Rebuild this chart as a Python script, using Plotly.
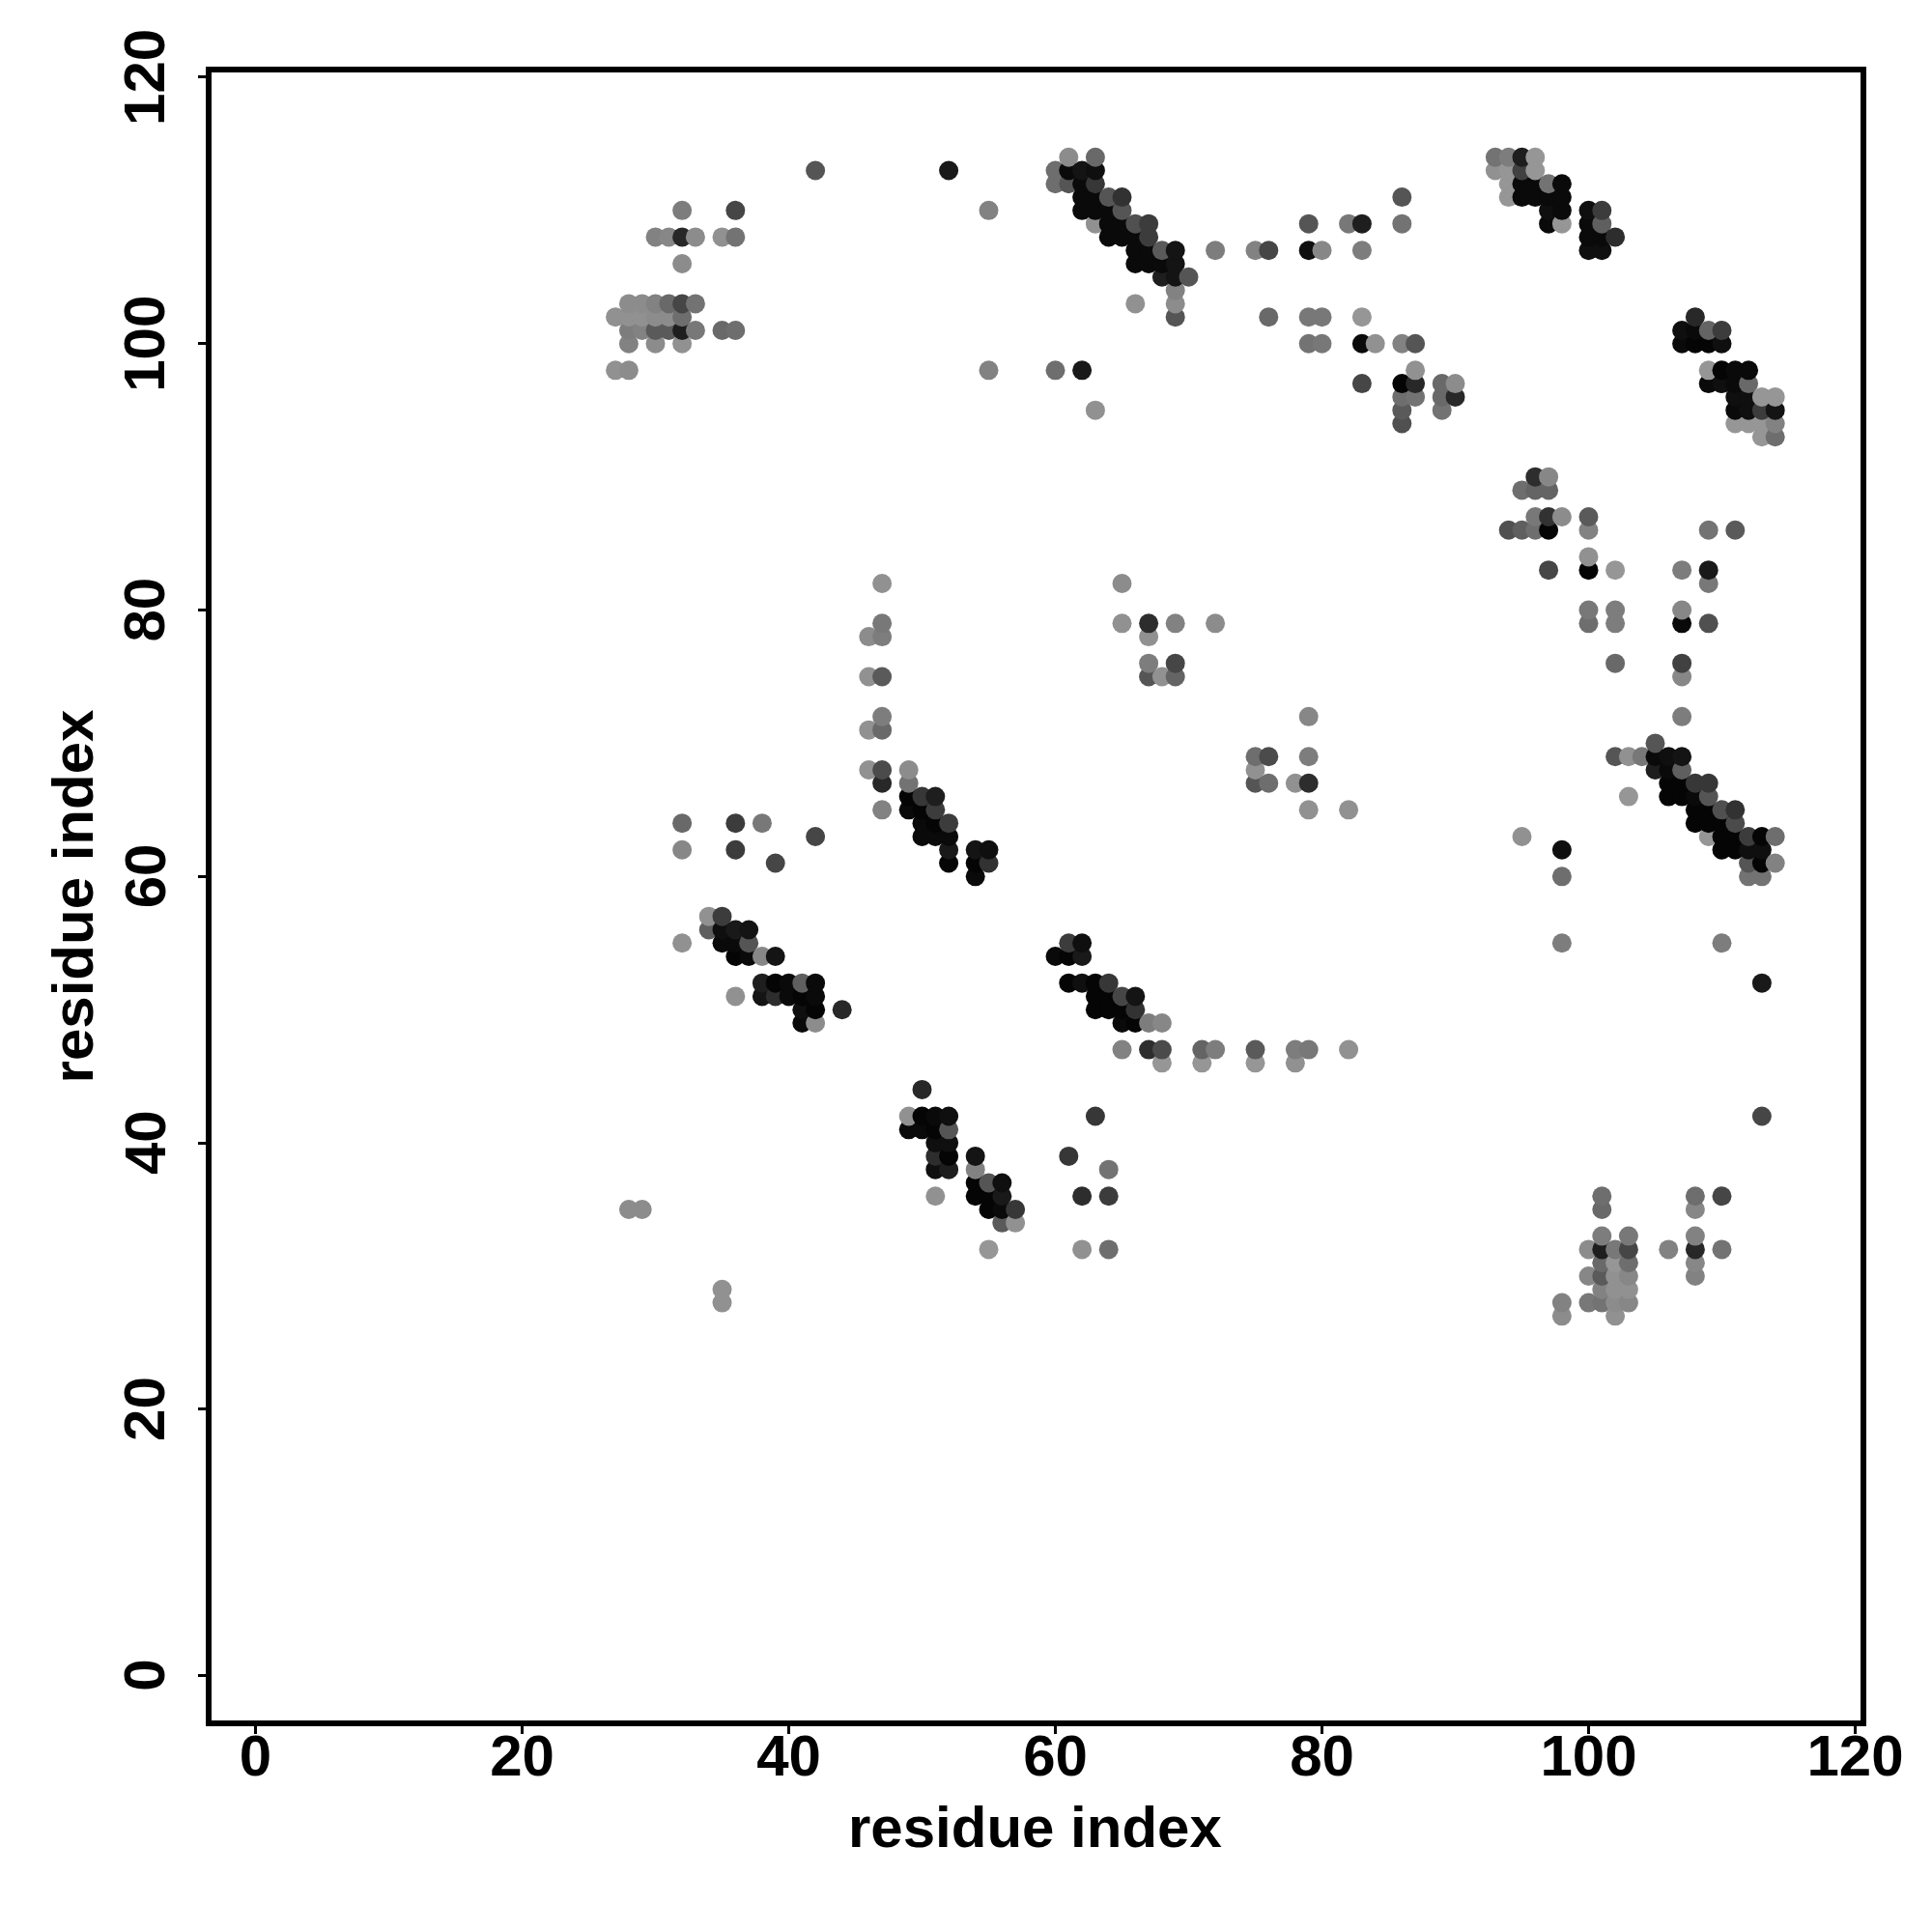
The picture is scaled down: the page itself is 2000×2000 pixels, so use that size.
import plotly.graph_objects as go

# Rows of the contact map: y residue, x residues on that row, grey level (0 black - 255 white)
row_y = [114,113,112,111,110,109,108,107,106,105,104,103,102,101,100,98,97,96,95,94,93,90,89,87,86,84,83,82,80,79,78,76,75,72,71,70,69,68,67,66,65,64,63,62,61,60,57,56,55,54,52,51,50,49,47,46,44,42,41,40,39,38,37,36,35,34,33,32,31,30,29,28,27]
row_x = [
 [61,63,93,94,95,96],
 [42,52,60,61,62,63,93,94,95,96],
 [60,61,62,63,94,95,96,97,98],
 [62,63,64,65,86,94,95,96,97,98],
 [32,36,55,62,63,64,65,97,98,100,101],
 [63,64,65,66,67,79,82,83,86,97,98,100,101],
 [30,31,32,33,35,36,64,65,66,67,100,101,102],
 [66,67,68,69,72,75,76,79,80,83,100,101],
 [32,66,67,68,69],
 [68,69,70],
 [69],
 [28,29,30,31,32,33,66,69],
 [27,28,29,30,31,32,69,76,79,80,83,108],
 [28,29,30,31,32,33,35,36,107,108,109,110],
 [28,30,32,79,80,83,84,86,87,107,108,109,110],
 [27,28,55,60,62,87,109,110,111,112],
 [83,86,87,89,90,109,110,111,112],
 [86,87,89,90,111,112,113,114],
 [63,86,89,111,112,113,114],
 [86,111,112,113,114],
 [113,114],
 [96,97],
 [95,96,97],
 [96,97,98,100],
 [94,95,96,97,100,109,111],
 [100],
 [97,100,102,107,109],
 [47,65,109],
 [100,102,107],
 [47,65,67,69,72,100,102,107,109],
 [46,47,67],
 [67,69,102,107],
 [46,47,67,68,69,107],
 [47,79,107],
 [46,47],
 [105],
 [75,76,79,102,103,104,105,106,107],
 [46,47,49,75,105,106,107],
 [47,49,75,76,78,79,106,107,108,109],
 [49,50,51,103,106,107,108,109],
 [47,49,50,51,79,82,108,109,110,111],
 [32,36,38,50,51,52,108,109,110,111],
 [42,50,51,52,95,109,110,111,112,113,114],
 [32,36,52,54,55,98,110,111,112,113],
 [39,52,54,55,112,113,114],
 [54,98,112,113],
 [34,35],
 [34,35,36,37],
 [32,35,36,37,61,62,98,110],
 [36,37,38,39,60,61,62],
 [38,39,40,41,42,61,62,63,64,113],
 [36,38,39,40,41,42,63,64,65,66],
 [41,42,44,63,64,65,66],
 [41,42,65,66,67,68],
 [65,67,68,71,72,75,78,79,82],
 [68,71,75,78],
 [50],
 [49,50,51,52,63,113],
 [49,50,51,52],
 [51,52],
 [51,52,54,61],
 [51,52,54,64],
 [54,55,56],
 [51,54,55,56,62,64,101,108,110],
 [28,29,55,56,57,101,108],
 [56,57],
 [101,103,108],
 [55,62,64,100,101,102,103,106,108,110],
 [101,102,103,108],
 [100,101,102,103,108],
 [35,101,102,103],
 [35,98,100,101,102,103],
 [98,102],
]
row_grey = [
 [140,105,115,125,30,150],
 [85,25,110,10,20,15,145,150,65,150],
 [110,85,10,55,150,10,10,115,10],
 [10,10,85,50,85,150,10,10,10,10],
 [125,70,130,10,10,10,85,15,10,15,60],
 [145,10,10,80,60,85,120,30,115,10,150,10,95],
 [130,135,40,140,145,115,10,10,10,60,10,10,45],
 [10,10,90,20,125,130,70,15,135,125,15,15],
 [140,10,10,10,20],
 [30,20,85],
 [130],
 [140,140,130,105,70,115,145,140],
 [145,145,145,140,140,110,85,105,120,120,150,40],
 [125,130,90,90,30,120,105,110,15,10,100,60],
 [130,140,145,115,120,10,145,130,85,10,5,5,15],
 [145,140,130,110,25,145,150,5,10,10],
 [70,5,40,105,140,10,15,10,105],
 [110,115,105,40,15,15,150,150],
 [145,90,115,10,15,60,20],
 [80,150,150,150,130],
 [150,110],
 [45,135],
 [110,100,100],
 [120,50,140,90],
 [80,95,110,5,130,115,90],
 [145],
 [70,5,150,125,25],
 [145,140,120],
 [120,125,135],
 [120,145,45,130,140,110,125,10,80],
 [140,125,145],
 [125,70,105,65],
 [145,90,85,145,100,135],
 [125,135,125],
 [145,105],
 [85],
 [110,75,125,85,145,120,10,15,20],
 [145,75,140,145,30,10,95],
 [40,115,85,110,145,45,5,5,55,55],
 [5,55,30,150,5,5,10,85],
 [130,10,5,60,145,145,5,5,80,50],
 [105,60,120,10,5,60,5,5,5,75],
 [70,10,10,10,145,150,5,5,60,5,110],
 [135,60,25,20,15,15,5,5,15,15],
 [70,5,5,50,85,5,130],
 [10,110,115,115],
 [145,60],
 [95,15,25,20],
 [145,10,10,85,60,15,125,125],
 [5,10,135,20,10,5,25],
 [30,5,10,95,10,5,15,5,55,25],
 [145,20,45,10,5,10,5,5,70,20],
 [15,5,40,5,5,5,50],
 [10,140,10,5,125,135],
 [130,45,75,100,125,90,125,120,145],
 [150,150,150,145],
 [40],
 [145,5,10,15,55,70],
 [10,10,5,85],
 [15,15],
 [45,5,20,55],
 [15,30,130,115],
 [5,85,15],
 [145,5,5,25,45,60,110,110,70],
 [140,140,5,10,55,105,135],
 [90,145],
 [125,120,130],
 [150,145,110,140,30,120,70,130,40,115],
 [105,150,110,135],
 [135,90,145,135,130],
 [145,130,145,145],
 [145,130,120,115,140,135],
 [140,145],
]
tick_values = [0,20,40,60,80,100,120]
axis_title = "residue index"

points = sorted((x, y, g) for y, xs, gs in zip(row_y, row_x, row_grey) for x, g in zip(xs, gs))
px = [p[0] for p in points]
py = [p[1] for p in points]
pg = [p[2] for p in points]

fig = go.Figure(go.Scatter(
    x=px, y=py, mode="markers",
    marker=dict(size=20, color=pg, cmin=0, cmax=255,
                colorscale=[[0, "rgb(0,0,0)"], [1, "rgb(255,255,255)"]],
                showscale=False, line=dict(width=0), opacity=1),
    hoverinfo="skip",
))
font = dict(family="Liberation Sans", size=60, color="black", weight="bold")
axis = dict(tickmode="array", tickvals=tick_values, ticktext=[str(v) for v in tick_values],
            showgrid=False, zeroline=False, showline=True, mirror=True,
            linecolor="black", linewidth=6, ticks="outside", ticklen=8, tickwidth=3,
            tickcolor="black", tickfont=font)
annotations = [dict(text=str(v), xref="paper", x=0, yref="y", y=v, xshift=-69,
                    xanchor="center", yanchor="middle", textangle=-90,
                    showarrow=False, font=font) for v in tick_values]
annotations.append(dict(text=axis_title, xref="paper", x=0.5, yref="paper", y=0, yshift=-110,
                        xshift=-1, xanchor="center", yanchor="middle",
                        showarrow=False, font=font))
fig.update_layout(
    width=1984, height=1984, autosize=False,
    margin=dict(l=211, r=66, t=67, b=211),
    paper_bgcolor="white", plot_bgcolor="white", showlegend=False,
    xaxis=dict(axis, range=[-3.3, 120.4], ticklabelstandoff=-29),
    yaxis=dict(axis, range=[-3.36, 120.36], showticklabels=False,
               title=dict(text=axis_title, font=font, standoff=91)),
    annotations=annotations,
)
fig.write_html("out.html")
